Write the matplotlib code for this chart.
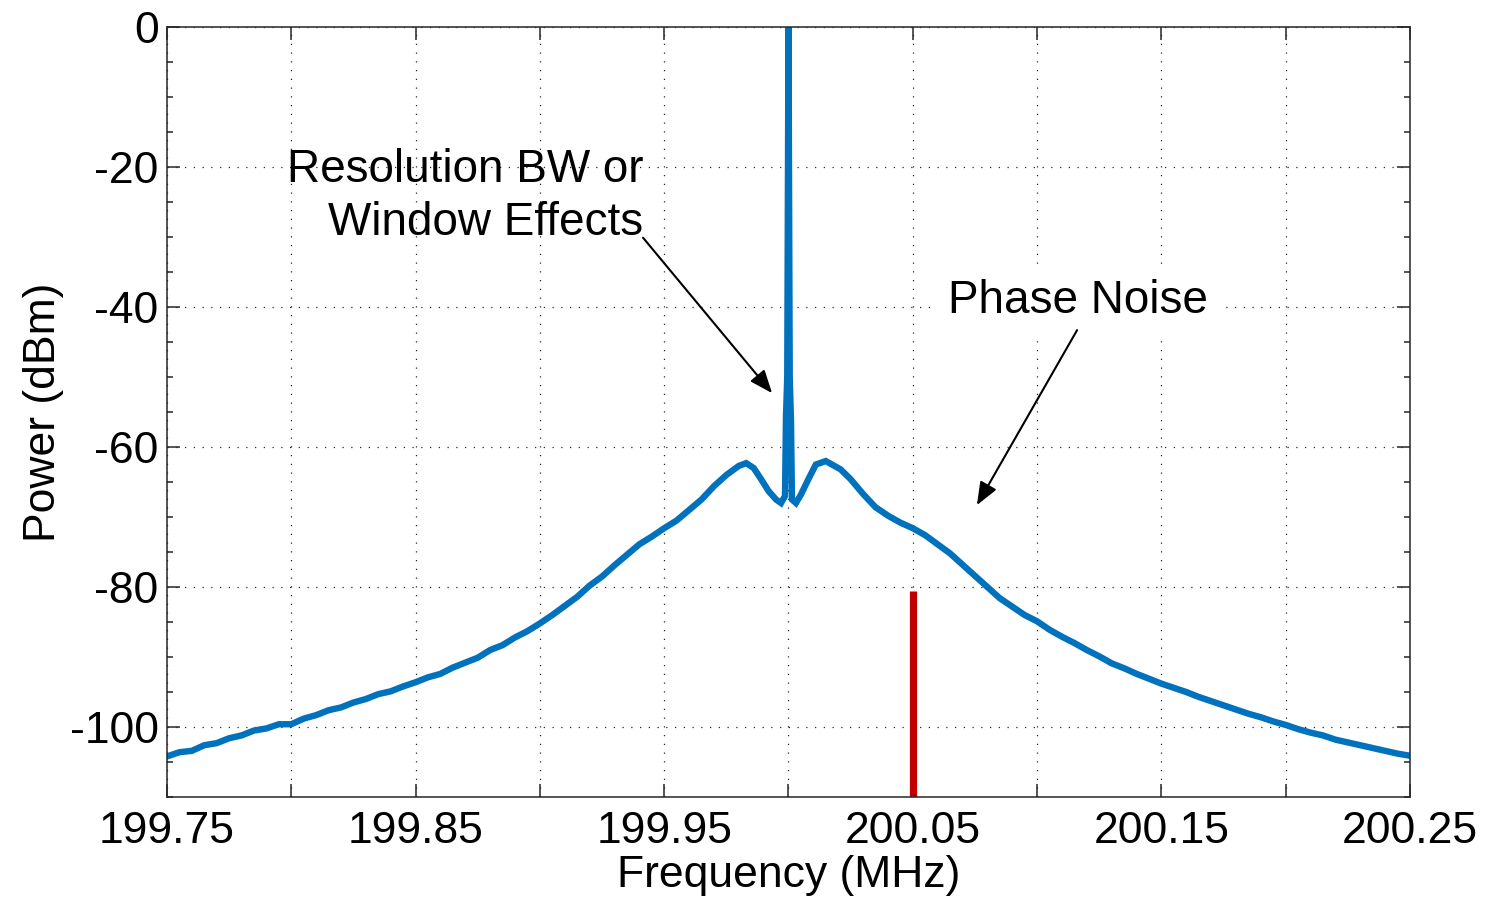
import matplotlib
matplotlib.use('Agg')
import matplotlib.pyplot as plt
from matplotlib.ticker import MultipleLocator

plt.rcParams['font.family'] = ['Liberation Sans', 'DejaVu Sans']
plt.rcParams['font.size'] = 32
plt.rcParams['axes.unicode_minus'] = False

# Spectrum (MHz, dBm)
freq_mhz = [
    199.750, 199.755, 199.760, 199.765, 199.770, 199.775, 199.780, 199.785,
    199.790, 199.795, 199.800, 199.805, 199.810, 199.815, 199.820, 199.825,
    199.830, 199.835, 199.840, 199.845, 199.850, 199.855, 199.860, 199.865,
    199.870, 199.875, 199.880, 199.885, 199.890, 199.895, 199.900, 199.905,
    199.910, 199.915, 199.920, 199.925, 199.930, 199.935, 199.940, 199.945,
    199.950, 199.955, 199.960, 199.965, 199.970, 199.975, 199.980, 199.983,
    199.986, 199.989, 199.992, 199.995, 199.997, 199.9986, 199.9990, 199.9995,
    200.0000, 200.0005, 200.0010, 200.0014, 200.003, 200.005, 200.008, 200.011,
    200.015, 200.018, 200.021, 200.025, 200.030, 200.035, 200.040, 200.045,
    200.050, 200.055, 200.060, 200.065, 200.070, 200.075, 200.080, 200.085,
    200.090, 200.095, 200.100, 200.105, 200.110, 200.115, 200.120, 200.125,
    200.130, 200.135, 200.140, 200.145, 200.150, 200.155, 200.160, 200.165,
    200.170, 200.175, 200.180, 200.185, 200.190, 200.195, 200.200, 200.205,
    200.210, 200.215, 200.220, 200.225, 200.230, 200.235, 200.240, 200.245,
    200.250,
]
power_dbm = [
    -104.2, -103.6, -103.4, -102.6, -102.3, -101.6, -101.2, -100.5,
    -100.2, -99.6, -99.6, -98.8, -98.3, -97.6, -97.2, -96.5,
    -96.0, -95.3, -94.9, -94.2, -93.6, -92.9, -92.4, -91.5,
    -90.8, -90.1, -89.0, -88.3, -87.2, -86.3, -85.2, -84.0,
    -82.7, -81.4, -79.8, -78.5, -76.9, -75.4, -73.9, -72.8,
    -71.6, -70.5, -69.0, -67.5, -65.6, -64.0, -62.7, -62.3,
    -63.0, -64.6, -66.3, -67.5, -68.0, -67.0, -55.5, -50.0,
    0.0, -50.0, -56.0, -67.5, -68.0, -66.8, -64.6, -62.5,
    -62.0, -62.6, -63.2, -64.6, -66.7, -68.6, -69.8, -70.8,
    -71.6, -72.6, -73.9, -75.2, -76.8, -78.4, -80.0, -81.6,
    -82.8, -84.0, -84.9, -86.1, -87.1, -88.0, -89.0, -89.9,
    -90.9, -91.6, -92.4, -93.1, -93.8, -94.4, -95.0, -95.7,
    -96.3, -96.9, -97.5, -98.1, -98.6, -99.2, -99.7, -100.3,
    -100.8, -101.2, -101.8, -102.2, -102.6, -103.0, -103.4, -103.8,
    -104.1,
]

# Red marker line
marker_freq = 200.05
marker_level = -80.5

xticks = [199.75, 199.80, 199.85, 199.90, 199.95, 200.00, 200.05, 200.10, 200.15, 200.20, 200.25]
xtick_labels = ['199.75', '', '199.85', '', '199.95', '', '200.05', '', '200.15', '', '200.25']
yticks = [-100, -80, -60, -40, -20, 0]

# Annotations: (text position, arrow tail, arrow head)
rbw_text = 'Resolution BW or\nWindow Effects'
rbw_xy = (199.9415, -24.2)
rbw_tail = (199.9415, -30.1)
rbw_head = (199.9934, -52.3)

pn_text = 'Phase Noise'
pn_xy = (200.0642, -39.2)
pn_tail = (200.1161, -43.3)
pn_head = (200.0758, -68.3)

fig = plt.figure(figsize=(14.87, 9.01), dpi=100)
ax = fig.add_axes([0.1123, 0.1154, 0.8359, 0.8546])

ax.plot(freq_mhz, power_dbm, color='#0072BD', lw=4.6, solid_joinstyle='miter')
ax.vlines(marker_freq, -110, marker_level, color='#C00000', lw=5.2)

ax.set_xlim(199.75, 200.25)
ax.set_ylim(-110, 0)
ax.set_xticks(xticks)
ax.set_xticklabels(xtick_labels)
ax.set_yticks(yticks)
ax.yaxis.set_minor_locator(MultipleLocator(5))

ax.grid(True, which='major', color='#262626', linestyle=(0, (1, 6)), lw=0.9)
ax.tick_params(which='both', direction='in', top=True, right=True, color='#262626')
ax.tick_params(which='major', length=9.5, width=1.1)
ax.tick_params(which='minor', length=4.5, width=1.1)
ax.tick_params(axis='x', pad=10)
ax.tick_params(axis='y', pad=6)
for s in ax.spines.values():
    s.set_color('#262626')
    s.set_linewidth(1.1)

ax.set_xlabel('Frequency (MHz)', labelpad=2)
ax.set_ylabel('Power (dBm)', labelpad=4)

arrow = dict(arrowstyle='-|>,head_length=0.5,head_width=0.2', color='black',
             lw=1.5, mutation_scale=28, shrinkA=0, shrinkB=0)
ax.text(*rbw_xy, rbw_text, ha='right', va='center', multialignment='right',
        linespacing=1.25, fontsize=33, zorder=5)
ax.annotate('', xy=rbw_head, xytext=rbw_tail, arrowprops=arrow, zorder=5)
ax.text(*pn_xy, pn_text, ha='left', va='center', fontsize=33, zorder=5,
        bbox=dict(facecolor='white', edgecolor='none', pad=8))
ax.annotate('', xy=pn_head, xytext=pn_tail, arrowprops=arrow, zorder=5)

fig.savefig('out.png', dpi=100)
